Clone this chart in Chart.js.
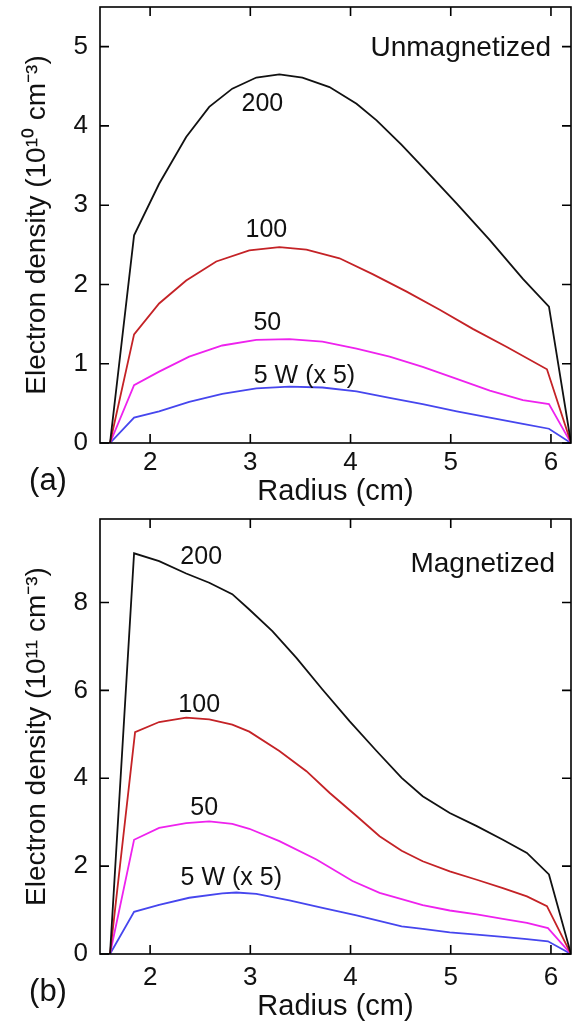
<!DOCTYPE html>
<html><head><meta charset="utf-8">
<script src="https://cdn.jsdelivr.net/npm/chart.js@4.4.1/dist/chart.umd.min.js"></script>
<style>
html,body{margin:0;padding:0;background:#fff;width:572px;height:1024px;overflow:hidden}
.panel{position:absolute;left:0;width:572px}
#pa{top:0;height:510px}
#pb{top:510px;height:514px}
</style></head><body>
<div class="panel" id="pa"><canvas id="ca"></canvas></div>
<div class="panel" id="pb"><canvas id="cb"></canvas></div>
<script>
const FONT = '"Liberation Sans", Arial, Helvetica, sans-serif';

// ---------- shared axis ticks ----------
const xTicks = [2, 3, 4, 5, 6];
const yTicksA = [0, 1, 2, 3, 4, 5];
const yTicksB = [0, 2, 4, 6, 8];
const seriesNames = ['200', '100', '50', '5 W (x 5)'];

// ---------- (a) Unmagnetized, 10^10 cm^-3 ----------
const rA200 = [1.6, 1.84, 2.09, 2.36, 2.59, 2.82, 3.06, 3.29, 3.52, 3.79, 4.06, 4.26, 4.51, 4.72, 5.06, 5.39, 5.72, 5.98, 6.2];
const nA200 = [0, 2.62, 3.27, 3.86, 4.24, 4.47, 4.61, 4.65, 4.61, 4.49, 4.28, 4.07, 3.76, 3.48, 3.02, 2.56, 2.07, 1.72, 0];
const rA100 = [1.6, 1.84, 2.09, 2.36, 2.66, 2.99, 3.29, 3.56, 3.89, 4.22, 4.56, 4.89, 5.22, 5.56, 5.96, 6.2];
const nA100 = [0, 1.37, 1.76, 2.05, 2.29, 2.43, 2.47, 2.44, 2.33, 2.13, 1.91, 1.68, 1.44, 1.21, 0.93, 0];
const rA50 = [1.6, 1.84, 2.09, 2.39, 2.72, 3.06, 3.39, 3.72, 4.06, 4.39, 4.72, 5.06, 5.39, 5.72, 5.98, 6.2];
const nA50 = [0, 0.73, 0.90, 1.09, 1.23, 1.30, 1.31, 1.28, 1.19, 1.09, 0.96, 0.81, 0.66, 0.54, 0.49, 0];
const rA5 = [1.6, 1.84, 2.09, 2.39, 2.72, 3.06, 3.39, 3.72, 4.06, 4.39, 4.72, 5.06, 5.39, 5.72, 5.98, 6.2];
const nA5 = [0, 0.32, 0.40, 0.52, 0.62, 0.69, 0.71, 0.70, 0.65, 0.57, 0.49, 0.40, 0.32, 0.24, 0.18, 0];

// ---------- (b) Magnetized, 10^11 cm^-3 ----------
const rB200 = [1.6, 1.84, 2.09, 2.36, 2.59, 2.82, 2.99, 3.22, 3.46, 3.72, 3.99, 4.26, 4.51, 4.72, 4.99, 5.26, 5.52, 5.76, 5.98, 6.2];
const nB200 = [0, 9.12, 8.94, 8.66, 8.45, 8.19, 7.84, 7.35, 6.74, 6.02, 5.30, 4.62, 4.01, 3.59, 3.21, 2.91, 2.60, 2.30, 1.81, 0];
const rB100 = [1.6, 1.85, 2.09, 2.36, 2.59, 2.82, 2.99, 3.29, 3.56, 3.79, 4.06, 4.29, 4.51, 4.72, 4.99, 5.26, 5.52, 5.76, 5.96, 6.2];
const nB100 = [0, 5.05, 5.28, 5.38, 5.34, 5.22, 5.06, 4.62, 4.16, 3.67, 3.14, 2.68, 2.35, 2.11, 1.88, 1.69, 1.50, 1.31, 1.09, 0];
const rB50 = [1.6, 1.84, 2.09, 2.36, 2.59, 2.82, 2.99, 3.29, 3.66, 4.02, 4.29, 4.51, 4.72, 4.99, 5.26, 5.52, 5.76, 5.97, 6.2];
const nB50 = [0, 2.60, 2.87, 2.98, 3.02, 2.96, 2.85, 2.57, 2.15, 1.66, 1.39, 1.25, 1.11, 0.99, 0.90, 0.80, 0.71, 0.59, 0];
const rB5 = [1.6, 1.84, 2.09, 2.39, 2.72, 2.86, 3.06, 3.39, 3.72, 4.06, 4.51, 4.72, 4.99, 5.26, 5.52, 5.76, 5.97, 6.2];
const nB5 = [0, 0.96, 1.12, 1.28, 1.38, 1.40, 1.37, 1.22, 1.05, 0.88, 0.63, 0.57, 0.49, 0.44, 0.39, 0.34, 0.29, 0];

const COLORS = ['#111111', '#c42226', '#ee22ee', '#4646ee'];

function pts(xs, ys) { return xs.map((v, i) => ({ x: v, y: ys[i] })); }
function ds(label, xs, ys, color) {
  return { label, data: pts(xs, ys), borderColor: color, borderWidth: 1.8, pointRadius: 0, tension: 0, fill: false };
}

const framePlugin = {
  id: 'frame',
  afterDatasetsDraw(chart) {
    const { ctx, chartArea: { left, right, top, bottom }, scales: { x, y } } = chart;
    ctx.save();
    ctx.strokeStyle = '#000';
    ctx.lineWidth = 1.6;
    ctx.strokeRect(left, top, right - left, bottom - top);
    const L = 9;
    ctx.beginPath();
    x.ticks.forEach(t => {
      const px = x.getPixelForValue(t.value);
      ctx.moveTo(px, bottom); ctx.lineTo(px, bottom - L);
      ctx.moveTo(px, top); ctx.lineTo(px, top + L);
    });
    y.ticks.forEach(t => {
      const py = y.getPixelForValue(t.value);
      ctx.moveTo(left, py); ctx.lineTo(left + L, py);
      ctx.moveTo(right, py); ctx.lineTo(right - L, py);
    });
    ctx.stroke();
    ctx.restore();
  }
};

const notesPlugin = {
  id: 'notes',
  afterDraw(chart, args, opts) {
    const { ctx, scales: { x, y } } = chart;
    ctx.save();
    ctx.fillStyle = '#111';
    ctx.textAlign = 'center';
    ctx.textBaseline = 'middle';
    (opts.items || []).forEach(it => {
      ctx.font = it.size + 'px ' + FONT;
      const px = it.px !== undefined ? it.px : x.getPixelForValue(it.r);
      const py = it.py !== undefined ? it.py : y.getPixelForValue(it.n);
      ctx.fillText(it.text, px, py);
    });
    ctx.restore();
  }
};

function makeChart(canvasId, datasets, yMax, yTicks, yTitle, padTop, xHeight, xTickPad, xTitlePad, notes) {
  return new Chart(document.getElementById(canvasId), {
    type: 'line',
    data: { datasets },
    plugins: [framePlugin, notesPlugin],
    options: {
      responsive: true,
      maintainAspectRatio: false,
      animation: false,
      devicePixelRatio: 1,
      layout: { padding: { top: padTop, right: 1, left: 0, bottom: 0 } },
      plugins: { legend: { display: false }, tooltip: { enabled: false }, notes: { items: notes } },
      scales: {
        x: {
          type: 'linear', min: 1.5, max: 6.2,
          afterBuildTicks: s => { s.ticks = xTicks.map(v => ({ value: v })); },
          afterFit: s => { s.height = xHeight; s.paddingLeft = 0; s.paddingRight = 0; },
          grid: { display: false }, border: { display: false },
          ticks: { color: '#111', font: { family: FONT, size: 26 }, padding: xTickPad, maxRotation: 0, callback: v => String(v) },
          title: { display: true, text: 'Radius (cm)', color: '#111', font: { family: FONT, size: 29, lineHeight: 1 }, padding: { top: 0, bottom: xTitlePad } }
        },
        y: {
          type: 'linear', min: 0, max: yMax,
          afterBuildTicks: s => { s.ticks = yTicks.map(v => ({ value: v })); },
          afterFit: s => { s.width = 100; s.paddingTop = 0; s.paddingBottom = 0; },
          grid: { display: false }, border: { display: false },
          ticks: { color: '#111', font: { family: FONT, size: 26 }, padding: 4, callback: v => String(v) },
          title: { display: true, text: yTitle, color: '#111', font: { family: FONT, size: 28, lineHeight: 1 }, padding: { top: 23, bottom: 0 } }
        }
      }
    }
  });
}

makeChart('ca', [
  ds(seriesNames[0], rA200, nA200, COLORS[0]),
  ds(seriesNames[1], rA100, nA100, COLORS[1]),
  ds(seriesNames[2], rA50, nA50, COLORS[2]),
  ds(seriesNames[3], rA5, nA5, COLORS[3])
], 5.5, yTicksA, 'Electron density (10\u00B9\u2070 cm\u207B\u00B3)', 7, 67, -4, 4, [
  { text: seriesNames[0], r: 3.12, n: 4.28, size: 25 },
  { text: seriesNames[1], r: 3.16, n: 2.69, size: 25 },
  { text: seriesNames[2], r: 3.17, n: 1.51, size: 25 },
  { text: seriesNames[3], r: 3.54, n: 0.85, size: 25 },
  { text: 'Unmagnetized', r: 5.10, n: 4.98, size: 28 },
  { text: '(a)', px: 48, py: 481, size: 31 }
]);

makeChart('cb', [
  ds(seriesNames[0], rB200, nB200, COLORS[0]),
  ds(seriesNames[1], rB100, nB100, COLORS[1]),
  ds(seriesNames[2], rB50, nB50, COLORS[2]),
  ds(seriesNames[3], rB5, nB5, COLORS[3])
], 9.9, yTicksB, 'Electron density (10\u00B9\u00B9 cm\u207B\u00B3)', 9, 70, 0, 3, [
  { text: seriesNames[0], r: 2.51, n: 9.04, size: 25 },
  { text: seriesNames[1], r: 2.49, n: 5.66, size: 25 },
  { text: seriesNames[2], r: 2.54, n: 3.33, size: 25 },
  { text: seriesNames[3], r: 2.81, n: 1.73, size: 25 },
  { text: 'Magnetized', r: 5.32, n: 8.87, size: 28 },
  { text: '(b)', px: 48, py: 482, size: 31 }
]);
</script>
</body></html>
